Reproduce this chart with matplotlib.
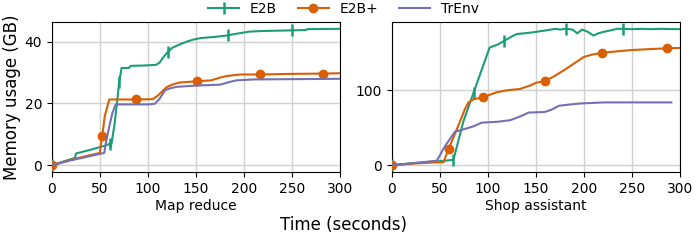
import numpy as np
import matplotlib
matplotlib.use("Agg")
import matplotlib.pyplot as plt

# ---- Map reduce ----
mr_e2b_t = [0, 10, 24, 25, 40, 57, 60, 61, 62, 65, 68, 70, 72.5, 80, 82, 95, 108, 112, 116, 121, 125, 132, 140, 147, 155, 170, 183.7, 190, 196, 206, 220, 250, 264, 266, 300]
mr_e2b_v = [0, 1, 2.4, 3.8, 5, 6.5, 7.0, 6.0, 7.0, 13, 21, 27, 31.5, 31.5, 32.2, 32.3, 32.5, 33.2, 35, 36.8, 38, 39, 40, 40.7, 41.2, 41.6, 42.1, 42.5, 42.8, 43.3, 43.5, 43.7, 43.8, 44.1, 44.2]
mr_e2b_mk = [0, 60, 70, 121, 183.7, 250]

mr_e2bp_t = [0, 20, 50, 50.5, 52.4, 55, 59.7, 88, 105, 110, 119.4, 126, 133, 150.7, 166, 174, 182, 196, 216.6, 250, 282.6, 300]
mr_e2bp_v = [0, 1.8, 4, 6, 9.5, 16, 21.3, 21.3, 21.4, 22.5, 25.3, 26.2, 26.8, 27.2, 27.5, 28.3, 28.9, 29.4, 29.4, 29.6, 29.7, 29.8]
mr_e2bp_mk = [0, 52.4, 88, 150.7, 216.6, 282.6]

mr_tr_t = [0, 20, 54.5, 56, 60, 63, 66.3, 100, 107, 112, 117.7, 124, 130, 150, 175, 184, 192, 210, 300]
mr_tr_v = [0, 1.6, 4, 7, 13, 17, 19.7, 19.7, 19.9, 21.5, 24.3, 25, 25.4, 25.8, 26.1, 26.9, 27.5, 27.8, 28.0]

# ---- Shop assistant ----
sa_e2b_t = [0, 20, 40, 55, 64, 74.5, 85, 101.7, 110, 117, 125, 130, 145, 161, 170, 175, 181.2, 188, 193, 198, 204, 209.8, 215, 220.5, 228, 234.5, 240.5, 250, 260, 270, 280, 290, 300]
sa_e2b_v = [0, 2.5, 4.5, 6, 7.3, 59, 97, 157, 161, 166, 172, 175, 177, 180, 182, 181, 182, 181, 176, 181, 178, 173, 176, 178, 180, 182, 182, 181.5, 182, 181.5, 182, 181.7, 181.5]
sa_e2b_mk = [0, 64, 85, 117, 181.2, 240.5]

sa_e2bp_t = [0, 20, 40, 53.6, 58.9, 65, 71, 76, 79.7, 85, 94.4, 109, 120, 133.4, 144, 150, 159, 168, 179, 190, 200, 210, 219, 235, 248.7, 270, 286.3, 300]
sa_e2bp_v = [0, 2, 3.5, 4, 21.6, 40, 59, 75, 84, 88, 90.5, 97.3, 100, 101.8, 106.4, 110, 112.2, 118, 126.6, 136, 144.6, 148, 150, 152, 153.6, 155, 156, 156.5]
sa_e2bp_mk = [0, 58.9, 94.4, 159, 219, 286.3]

sa_tr_t = [0, 20, 46.7, 55, 65.5, 75, 85, 93.5, 110, 123, 130.3, 137, 142.4, 159, 166, 173.8, 185, 196.4, 220.8, 291]
sa_tr_v = [0, 2.5, 6, 25, 44.6, 48, 52, 56.8, 58, 60, 63.5, 67, 70.3, 71, 74, 79.3, 81, 82.4, 83.8, 83.8]

labels = ["E2B", "E2B+", "TrEnv"]
subtitles = ["Map reduce", "Shop assistant"]
xticks = [0, 50, 100, 150, 200, 250, 300]

C_G, C_O, C_P = "#1b9e77", "#d95f02", "#7570b3"

def idx(t, mk):
    t = np.asarray(t)
    return [int(np.argmin(np.abs(t - m))) for m in mk]

fig = plt.figure(figsize=(6.97, 2.43), dpi=100)
ax1 = fig.add_axes([0.0746, 0.292, 0.4132, 0.6175])
ax2 = fig.add_axes([0.5624, 0.292, 0.4132, 0.6175])

panels = [
    (ax1, (mr_e2b_t, mr_e2b_v, mr_e2b_mk), (mr_e2bp_t, mr_e2bp_v, mr_e2bp_mk), (mr_tr_t, mr_tr_v)),
    (ax2, (sa_e2b_t, sa_e2b_v, sa_e2b_mk), (sa_e2bp_t, sa_e2bp_v, sa_e2bp_mk), (sa_tr_t, sa_tr_v)),
]
for i, (ax, g, o, p) in enumerate(panels):
    ax.plot(g[0], g[1], color=C_G, lw=1.5, marker="|", ms=9, mew=1.8,
            markevery=idx(g[0], g[2]), label=labels[0], zorder=3)
    ax.plot(o[0], o[1], color=C_O, lw=1.5, marker="o", ms=6,
            markevery=idx(o[0], o[2]), label=labels[1], zorder=3)
    ax.plot(p[0], p[1], color=C_P, lw=1.5, label=labels[2], zorder=3)
    ax.set_xlim(0, 300)
    ax.set_xticks(xticks)
    ax.grid(True, color="#d0d0d0", lw=1)
    ax.set_axisbelow(True)
    ax.tick_params(labelsize=10)
    ax.set_xlabel(subtitles[i], fontsize=10, labelpad=2)

ax1.set_yticks([0, 20, 40])
ax2.set_yticks([0, 100])

h, l = ax1.get_legend_handles_labels()
fig.legend(h, l, loc="upper center", bbox_to_anchor=(0.493, 1.045), ncol=3,
           frameon=False, fontsize=10, handlelength=2.2, columnspacing=1.5)
fig.text(0.017, 0.60, "Memory usage (GB)", rotation=90, va="center", ha="center", fontsize=12)
fig.text(0.493, 0.074, "Time (seconds)", va="center", ha="center", fontsize=12)

fig.savefig("out.png", dpi=100)
